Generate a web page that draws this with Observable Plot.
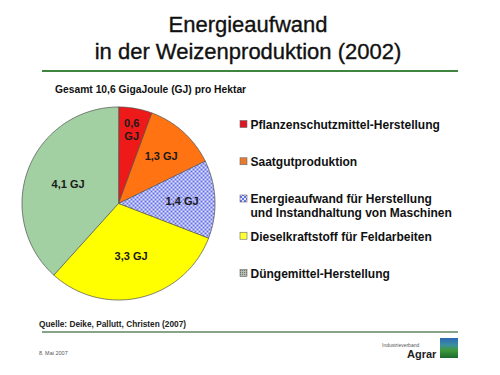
<!DOCTYPE html>
<html>
<head>
<meta charset="utf-8">
<script src="https://cdn.jsdelivr.net/npm/d3@7"></script>
<script src="https://cdn.jsdelivr.net/npm/@observablehq/plot@0.6"></script>
<style>
  html, body { margin: 0; padding: 0; background: #fff; }
  #page { position: relative; width: 500px; height: 375px; overflow: hidden; background: #fff;
          font-family: "Liberation Sans", Arial, Helvetica, sans-serif; color: #111; }
  #chart { position: absolute; left: 0; top: 0; }
  .abs { position: absolute; white-space: nowrap; }
  #title { left: 0; width: 496px; top: 11px; text-align: center; font-size: 22px; line-height: 27px;
           -webkit-text-stroke: 0.35px #111; }
  #rule1 { left: 42px; top: 70px; width: 416px; height: 2px; background: #3f843f; }
  #subtitle { left: 55px; top: 84px; font-size: 10.3px; font-weight: bold; line-height: 11px; }
  #caption { left: 39px; top: 319px; font-size: 8.3px; font-weight: bold; line-height: 10px; color: #222; }
  #rule2 { left: 42px; top: 331px; width: 416px; height: 1.5px; background: #86a486; }
  #date { left: 39px; top: 350px; font-size: 5.5px; color: #555; line-height: 7px; }
  #ind { left: 382px; top: 342px; font-size: 5px; color: #555; line-height: 6px; }
  #agrar { left: 407px; top: 349px; font-size: 11px; font-weight: bold; color: #222; line-height: 11px; }
  #logo { left: 440px; top: 338px; width: 18px; height: 20px;
          background: linear-gradient(#2c68b4 0%, #3b8fa0 35%, #3f9a3c 60%, #1d6a2c 100%); }
</style>
</head>
<body>
<div id="page">
  <div id="chart"></div>
  <div id="title" class="abs">Energieaufwand<br>in der Weizenproduktion (2002)</div>
  <div id="rule1" class="abs"></div>
  <div id="subtitle" class="abs">Gesamt 10,6 GigaJoule (GJ) pro Hektar</div>
  <div id="caption" class="abs">Quelle: Deike, Pallutt, Christen (2007)</div>
  <div id="rule2" class="abs"></div>
  <div id="date" class="abs">8. Mai 2007</div>
  <div id="ind" class="abs">Industrieverband</div>
  <div id="agrar" class="abs">Agrar</div>
  <div id="logo" class="abs"></div>
</div>
<script>
// ---- data ----
const categories = [
  "Pflanzenschutzmittel-Herstellung",
  "Saatgutproduktion",
  "Energieaufwand für Herstellung\nund Instandhaltung von Maschinen",
  "Dieselkraftstoff für Feldarbeiten",
  "Düngemittel-Herstellung"
];
const values = [0.6, 1.3, 1.4, 3.3, 4.1];
const unit = "GJ";

// ---- styles ----
const sliceFills = ["#ee1a1a", "#ff7312", "url(#chk)", "#ffff00", "url(#dots)"];
const swatchFills = ["#dd1524", "#e77a2c", "url(#chk)", "#ffff33", "url(#graydots)"];
const font = "'Liberation Sans', Arial, Helvetica, sans-serif";

// ---- layout ----
const cx = 118, cy = 203, R = 96.5;
const legendX = 240, legendTextX = 250, legendY0 = 124, legendStep = 37.25, sw = 7, lineH = 14;

const arcs = d3.pie().sort(null)(values);

const slicePolys = arcs.map((a, i) => {
  const pts = [{x: cx, y: cy}];
  const n = Math.max(4, Math.ceil((a.endAngle - a.startAngle) / (Math.PI / 180)));
  for (let k = 0; k <= n; k++) {
    const t = a.startAngle + (a.endAngle - a.startAngle) * k / n;
    pts.push({x: cx + R * Math.sin(t), y: cy - R * Math.cos(t)});
  }
  return pts;
});

const fmt = v => String(v).replace(".", ",");
const labels = arcs.map((a, i) => {
  const span = (a.endAngle - a.startAngle) * 180 / Math.PI;
  const f = span < 25 ? 0.78 : span < 50 ? 0.66 : 0.56;
  const m = (a.startAngle + a.endAngle) / 2;
  return {
    x: cx + R * f * Math.sin(m),
    y: cy - R * f * Math.cos(m),
    text: span < 25 ? `${fmt(values[i])}\n${unit}` : `${fmt(values[i])} ${unit}`
  };
});

const legendRows = categories.map((c, i) => {
  const yy = legendY0 + i * legendStep;
  const lines = c.split("\n").length;
  return {name: c, y: yy, ty: yy + (lines - 1) * lineH / 2, fill: swatchFills[i]};
});

const svg = Plot.plot({
  width: 500,
  height: 375,
  margin: 0,
  style: {background: "transparent", fontFamily: font},
  x: {domain: [0, 500], range: [0, 500], axis: null},
  y: {domain: [0, 375], range: [0, 375], axis: null},
  marks: [
    ...slicePolys.map((pts, i) => Plot.line(pts, {
      x: "x", y: "y", curve: "linear-closed",
      fill: sliceFills[i], stroke: "#4a4a4a", strokeWidth: 0.7, strokeLinejoin: "round"
    })),
    Plot.text(labels, {
      x: "x", y: "y", text: "text", fontSize: 11, fontWeight: "bold",
      fill: "#1a1a1a", lineHeight: 1.15, textAnchor: "middle"
    }),
    ...legendRows.map(r => Plot.rect([r], {
      x1: legendX, x2: legendX + sw, y1: d => d.y - sw / 2, y2: d => d.y + sw / 2,
      fill: r.fill, stroke: "#6a6a6a", strokeWidth: 0.6
    })),
    Plot.text(legendRows, {
      x: legendTextX, y: "ty", text: "name", textAnchor: "start", lineAnchor: "middle",
      fontSize: 12, fontWeight: "bold", fill: "#111", lineHeight: lineH / 12
    })
  ]
});

// patterns
const defs = d3.select(svg).insert("defs", ":first-child");
const chk = defs.append("pattern").attr("id", "chk").attr("patternUnits", "userSpaceOnUse")
  .attr("width", 4).attr("height", 4);
chk.append("rect").attr("width", 4).attr("height", 4).attr("fill", "#e2e5ff");
chk.append("rect").attr("x", 0).attr("y", 0).attr("width", 2).attr("height", 2).attr("fill", "#6870e0");
chk.append("rect").attr("x", 2).attr("y", 2).attr("width", 2).attr("height", 2).attr("fill", "#6870e0");

const dots = defs.append("pattern").attr("id", "dots").attr("patternUnits", "userSpaceOnUse")
  .attr("width", 2).attr("height", 2);
dots.append("rect").attr("width", 2).attr("height", 2).attr("fill", "#b8e0b8");
dots.append("rect").attr("width", 1).attr("height", 1).attr("fill", "#5f9f5f");

const gd = defs.append("pattern").attr("id", "graydots").attr("patternUnits", "userSpaceOnUse")
  .attr("width", 2).attr("height", 2);
gd.append("rect").attr("width", 2).attr("height", 2).attr("fill", "#b4bcb4");
gd.append("rect").attr("width", 1).attr("height", 1).attr("fill", "#6e786e");

document.getElementById("chart").appendChild(svg);
</script>
</body>
</html>
